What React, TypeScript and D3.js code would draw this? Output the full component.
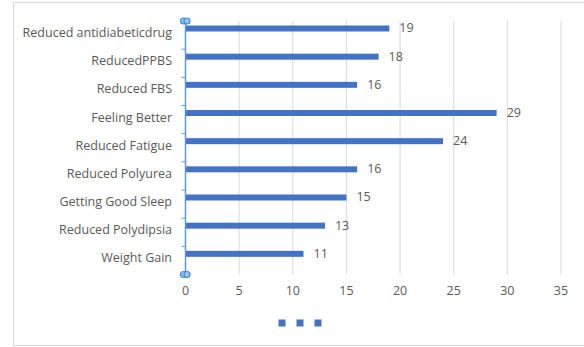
import React from "react";
import * as d3 from "d3";

const categories = [
  "Reduced antidiabeticdrug",
  "ReducedPPBS",
  "Reduced FBS",
  "Feeling Better",
  "Reduced Fatigue",
  "Reduced Polyurea",
  "Getting Good Sleep",
  "Reduced Polydipsia",
  "Weight Gain",
];
const values = [19, 18, 16, 29, 24, 16, 15, 13, 11];
const xTicks = [0, 5, 10, 15, 20, 25, 30, 35];

const W = 584;
const H = 347;
const FONT = "'Open Sans', sans-serif";
const TEXT = "#595959";
const BAR = "#4472C4";
const GRID = "#d9d9d9";
const AXIS = "#5B9BD5";

export default function App() {
  const x = d3.scaleLinear().domain([0, 35]).range([185.5, 561]);
  const y = d3.scaleBand<string>().domain(categories).range([21, 274.5]);
  const bw = y.bandwidth();
  const barH = 6;
  const barOffset = 4.5; // bar sits in the upper part of each band

  return (
    <svg
      width={W}
      height={H}
      style={{ position: "absolute", left: 0, top: 0 }}
      fontFamily={FONT}
    >
      <rect x={0} y={0} width={W} height={H} fill="#fff" />
      <rect x={13.5} y={2.5} width={W} height={343} fill="none" stroke={GRID} />

      {/* vertical grid */}
      {xTicks.slice(1).map((t) => (
        <line key={t} x1={x(t)} x2={x(t)} y1={21} y2={274.5} stroke={GRID} strokeWidth={1} />
      ))}

      {/* bars */}
      {categories.map((c, i) => {
        const y0 = (y(c) as number) + barOffset;
        return (
          <g key={c}>
            <rect x={x(0)} y={y0} width={x(values[i]) - x(0)} height={barH} fill={BAR} />
            <text
              x={x(values[i]) + 10}
              y={y0 + barH / 2 - 0.5}
              dy="0.35em"
              fontSize={12.5}
              fill={TEXT}
            >
              {values[i]}
            </text>
            <text
              x={172}
              y={(y(c) as number) + bw / 2 - 2.3}
              dy="0.35em"
              textAnchor="end"
              fontSize={12.5}
              fill={TEXT}
            >
              {c}
            </text>
          </g>
        );
      })}

      {/* category axis */}
      <line x1={x(0)} x2={x(0)} y1={21} y2={274.5} stroke={AXIS} strokeWidth={1.5} />
      {y.domain().slice(1).map((c) => (
        <line
          key={c}
          x1={x(0) - 4}
          x2={x(0)}
          y1={y(c) as number}
          y2={y(c) as number}
          stroke={AXIS}
          strokeWidth={1}
        />
      ))}
      {[21, 274.5].map((hy) => (
        <g key={hy}>
          <circle cx={x(0) - 2} cy={hy} r={3} fill="#9DC3E6" stroke="#3E8DD6" strokeWidth={1.2} />
          <circle cx={x(0) + 1.5} cy={hy} r={3} fill="#9DC3E6" stroke="#3E8DD6" strokeWidth={1.2} />
        </g>
      ))}

      {/* value axis labels */}
      {xTicks.map((t) => (
        <text key={t} x={x(t)} y={291} dy="0.35em" textAnchor="middle" fontSize={12.5} fill={TEXT}>
          {t}
        </text>
      ))}

      {/* legend markers */}
      {[282, 300, 318].map((lx) => (
        <rect key={lx} x={lx - 3.5} y={319.5} width={7} height={7} fill={BAR} />
      ))}
    </svg>
  );
}
